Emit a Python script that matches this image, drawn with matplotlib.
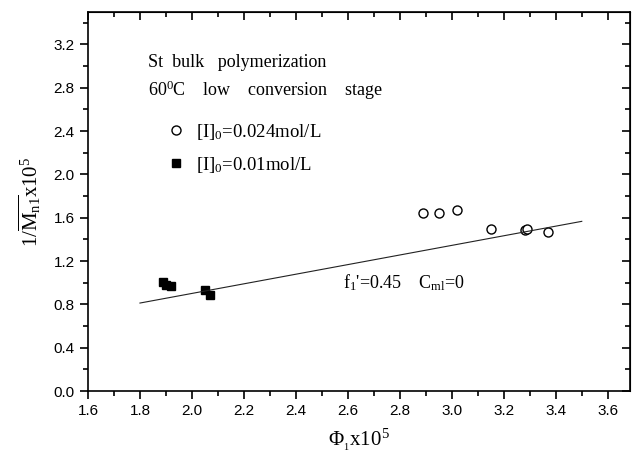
import numpy as np
import matplotlib.pyplot as plt
from matplotlib.ticker import MultipleLocator

plt.rcParams.update({
    'font.family': 'Liberation Sans',
    'mathtext.fontset': 'custom',
    'mathtext.rm': 'Liberation Serif',
    'mathtext.it': 'Liberation Serif:italic',
    'mathtext.bf': 'Liberation Serif:bold',
})
SERIF = 'Liberation Serif'

# [I]0 = 0.024 mol/L (open circles)
phi_024 = [2.89, 2.95, 3.02, 3.15, 3.28, 3.29, 3.37]
inv_mn_024 = [1.64, 1.64, 1.67, 1.50, 1.49, 1.50, 1.47]

# [I]0 = 0.01 mol/L (filled squares)
phi_001 = [1.89, 1.90, 1.92, 2.05, 2.07]
inv_mn_001 = [1.01, 0.98, 0.97, 0.93, 0.89]

# fitted line end points
fit_x = [1.80, 3.50]
fit_y = [0.813, 1.567]

fig = plt.figure(figsize=(6.33, 4.58), dpi=100)
ax = fig.add_axes([0.139, 0.146, 0.856, 0.828])

ax.plot(phi_024, inv_mn_024, 'o', mfc='white', mec='black', mew=1.0, ms=6.5,
        label=r'[I]$_\mathrm{0}$=0.024mol/L')
ax.plot(phi_001, inv_mn_001, 's', color='black', ms=6,
        label=r'[I]$_\mathrm{0}$=0.01mol/L')
ax.plot(fit_x, fit_y, '-', color='#222222', lw=0.8)

ax.set_xlim(1.6, 3.685)
ax.set_ylim(0.0, 3.5)
ax.xaxis.set_major_locator(MultipleLocator(0.2))
ax.xaxis.set_minor_locator(MultipleLocator(0.1))
ax.yaxis.set_major_locator(MultipleLocator(0.4))
ax.yaxis.set_minor_locator(MultipleLocator(0.2))
ax.xaxis.set_major_formatter(plt.FormatStrFormatter('%.1f'))
ax.yaxis.set_major_formatter(plt.FormatStrFormatter('%.1f'))
ax.tick_params(which='major', direction='out', length=6, width=1.2, labelsize=11)
ax.tick_params(which='minor', direction='out', length=3.5, width=1.2)
for s in ax.spines.values():
    s.set_linewidth(1.2)

top = ax.secondary_xaxis('top')
top.xaxis.set_major_locator(MultipleLocator(0.2))
top.xaxis.set_minor_locator(MultipleLocator(0.1))
top.tick_params(which='major', direction='in', length=6, width=1.2, labeltop=False)
top.tick_params(which='minor', direction='in', length=3.5, width=1.2)
right = ax.secondary_yaxis('right')
right.yaxis.set_major_locator(MultipleLocator(0.4))
right.yaxis.set_minor_locator(MultipleLocator(0.2))
right.tick_params(which='major', direction='in', length=6, width=1.2, labelright=False)
right.tick_params(which='minor', direction='in', length=3.5, width=1.2)

ax.set_xlabel(r'$\mathrm{\Phi_{_1}}$x10$^\mathrm{5}$', fontsize=15, labelpad=6, family=SERIF)
ax.set_ylabel(r'1/$\mathrm{\overline{M_{n1}}}$x10$^\mathrm{5}$', fontsize=15, labelpad=8, family=SERIF)

ax.text(1.83, 3.03, 'St  bulk   polymerization', fontsize=13, va='center', family=SERIF)
ax.text(1.83, 2.78, r'60$^\mathrm{0}$C    low    conversion    stage', fontsize=13,
        va='center', family=SERIF)
ax.text(2.58, 1.0, r"f$_\mathrm{1}$'=0.45    C$_\mathrm{ml}$=0", fontsize=13, va='center',
        family=SERIF)

ax.legend(loc='upper left', bbox_to_anchor=(0.105, 0.755), frameon=False,
          prop={'family': SERIF, 'size': 13.5},
          handletextpad=0.3, labelspacing=0.7, handlelength=1.5)

fig.savefig('out.png', dpi=100)
